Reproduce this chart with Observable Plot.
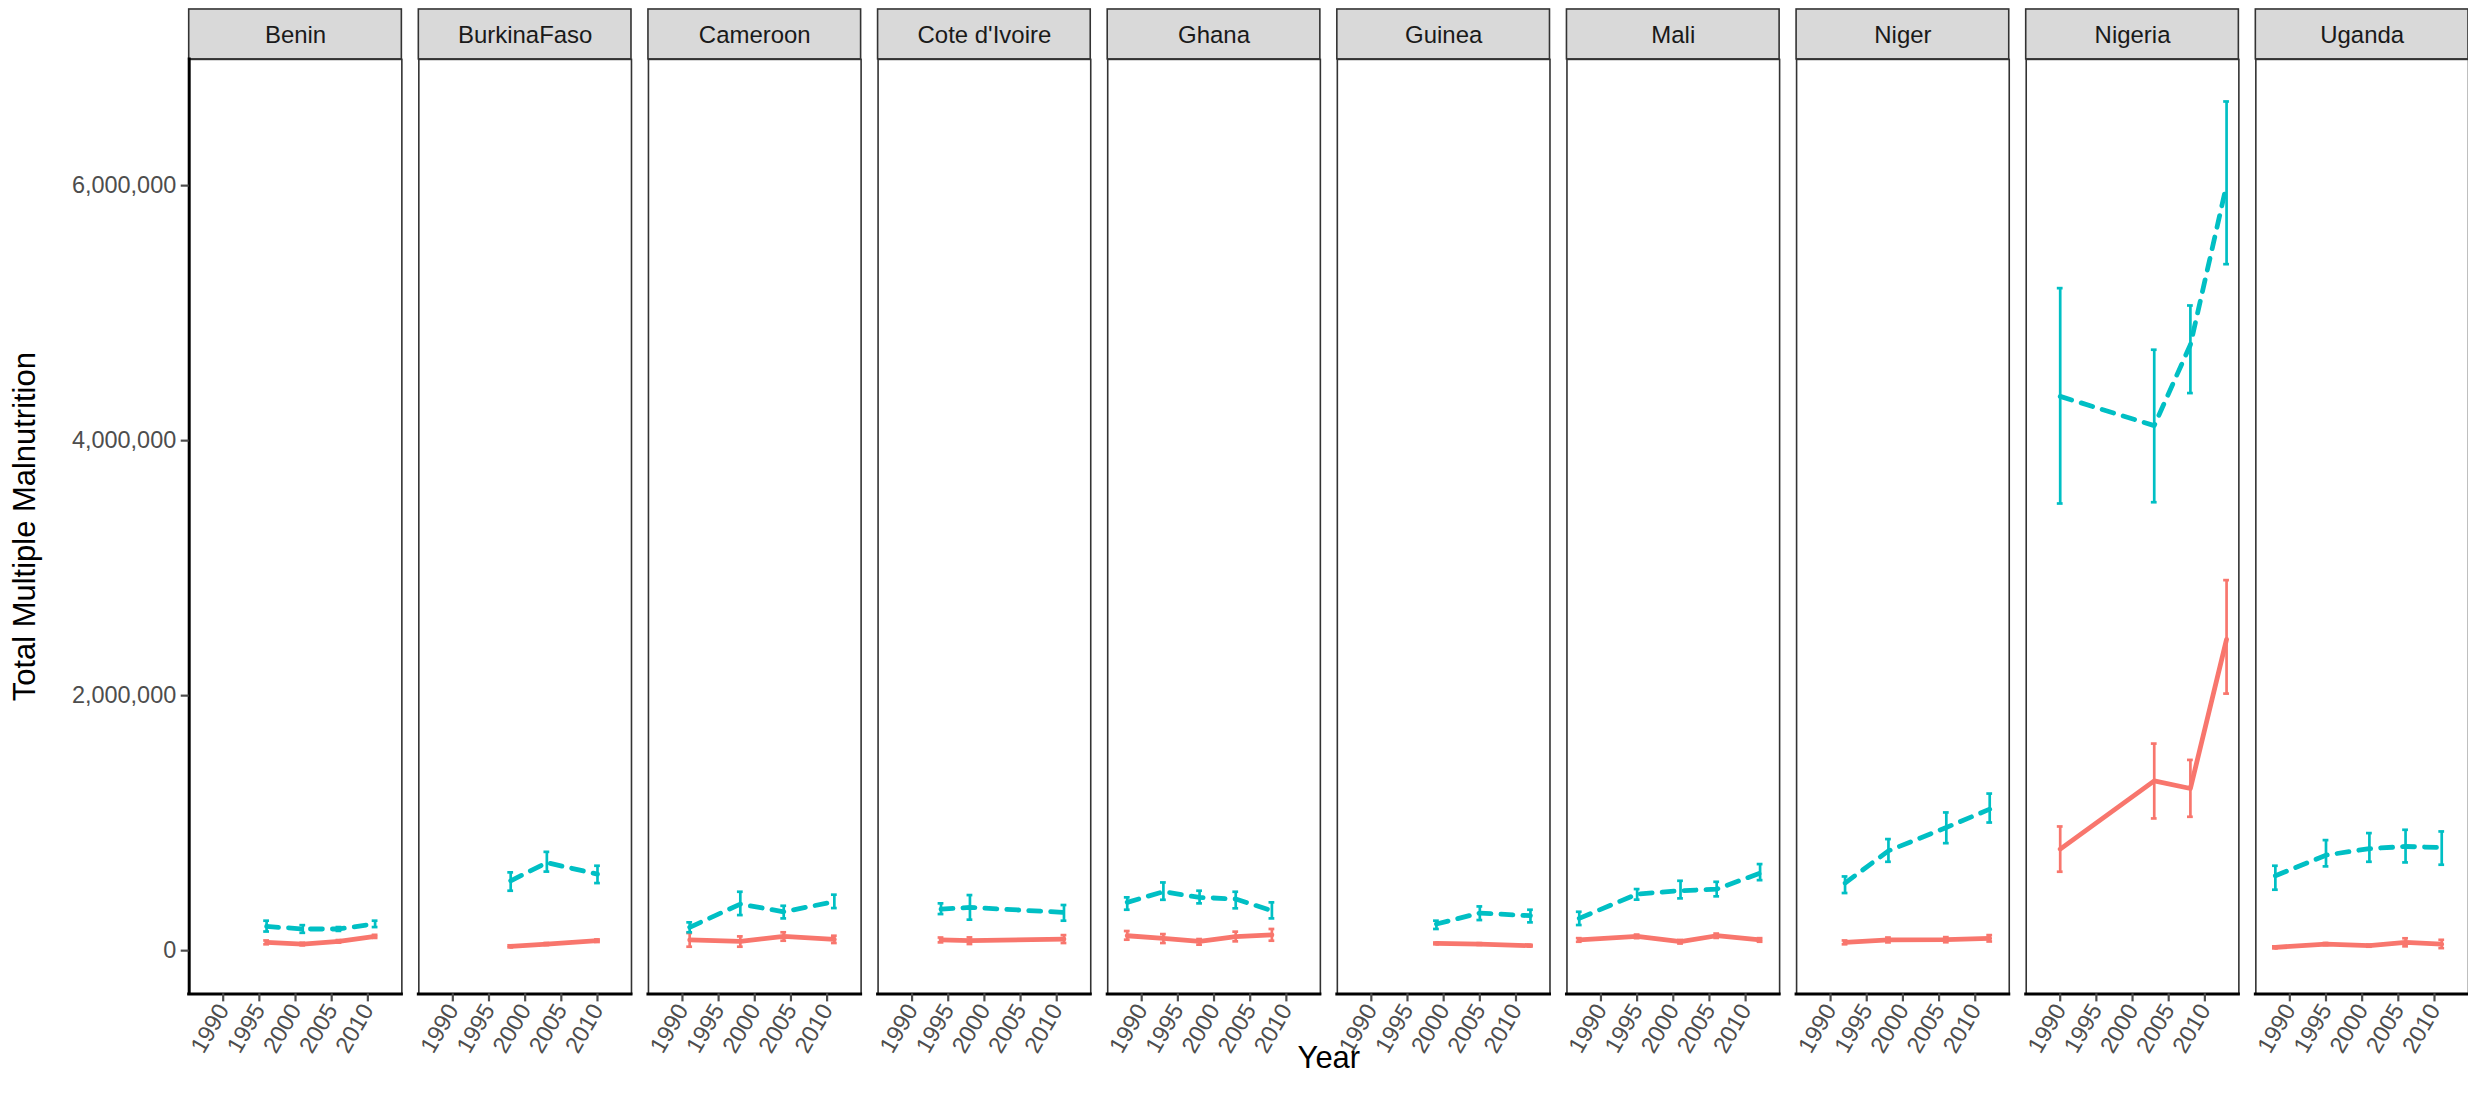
<!DOCTYPE html>
<html>
<head>
<meta charset="utf-8">
<script src="https://cdn.jsdelivr.net/npm/d3@7"></script>
<script src="https://cdn.jsdelivr.net/npm/@observablehq/plot@0.6"></script>
<style>
  html, body { margin: 0; padding: 0; background: #fff; overflow: hidden; }
  #chart svg { display: block; overflow: visible; }
</style>
</head>
<body>
<div id="chart"></div>
<script>
// Facet order (one panel per country)
const countries = ["Benin", "BurkinaFaso", "Cameroon", "Cote d'Ivoire", "Ghana",
                   "Guinea", "Mali", "Niger", "Nigeria", "Uganda"];

// One entry per survey round
const surveyCountry = [
  "Benin", "Benin", "Benin", "Benin",
  "BurkinaFaso", "BurkinaFaso", "BurkinaFaso",
  "Cameroon", "Cameroon", "Cameroon", "Cameroon",
  "Cote d'Ivoire", "Cote d'Ivoire", "Cote d'Ivoire",
  "Ghana", "Ghana", "Ghana", "Ghana", "Ghana",
  "Guinea", "Guinea", "Guinea",
  "Mali", "Mali", "Mali", "Mali", "Mali",
  "Niger", "Niger", "Niger", "Niger",
  "Nigeria", "Nigeria", "Nigeria", "Nigeria",
  "Uganda", "Uganda", "Uganda", "Uganda", "Uganda"
];
const surveyYear = [
  1996, 2001, 2006, 2011,
  1998, 2003, 2010,
  1991, 1998, 2004, 2011,
  1994, 1998, 2011,
  1988, 1993, 1998, 2003, 2008,
  1999, 2005, 2012,
  1987, 1995, 2001, 2006, 2012,
  1992, 1998, 2006, 2012,
  1990, 2003, 2008, 2013,
  1988, 1995, 2001, 2006, 2011
];

// Solid (red) series, thousands of people: estimate and interval bounds
const redMid = [
  65, 52, 73, 112,
  34, 52, 78,
  84, 73, 112, 89,
  84, 78, 91,
  117, 97, 73, 110, 123,
  57, 52, 39,
  84, 112, 70, 117, 84,
  65, 84, 86, 97,
  796, 1332, 1272, 2441,
  26, 52, 39, 65, 52
];
const redLow = [
  50, 42, 63, 100,
  26, 44, 68,
  31, 31, 78, 60,
  65, 52, 60,
  86, 60, 47, 73, 78,
  50, 45, 33,
  70, 98, 56, 100, 70,
  50, 65, 66, 72,
  619, 1037, 1050, 2016,
  18, 44, 31, 34, 20
];
const redHigh = [
  80, 62, 83, 124,
  42, 60, 88,
  138, 112, 144, 117,
  103, 104, 122,
  154, 130, 91, 149, 170,
  64, 59, 45,
  98, 126, 84, 134, 98,
  80, 103, 106, 122,
  974, 1624, 1496, 2906,
  34, 60, 47, 97, 85
];

// Dashed (teal) series, thousands of people
const tealMid = [
  190, 170, 170, 210,
  548, 690, 600,
  183, 365, 305, 384,
  326, 339, 300,
  379, 462, 418, 405, 313,
  209, 295, 274,
  253, 444, 470, 483, 608,
  530, 783, 966, 1110,
  4347, 4118, 4752, 6005,
  587, 749, 800, 817, 809
];
const tealLow = [
  150, 140, 155, 185,
  470, 620, 530,
  144, 279, 253, 334,
  287, 243, 235,
  321, 399, 371, 332, 253,
  170, 240, 222,
  201, 400, 410, 426, 553,
  452, 697, 843, 1005,
  3507, 3517, 4373, 5384,
  478, 661, 697, 692, 674
];
const tealHigh = [
  235, 200, 185, 235,
  614, 775, 666,
  222, 462, 352, 439,
  371, 436, 358,
  418, 535, 470, 462, 379,
  235, 347, 321,
  305, 483, 548, 540, 679,
  582, 875, 1084, 1232,
  5196, 4713, 5060, 6660,
  666, 867, 922, 948, 935
];

// Axis ticks
const yearTicks = [1990, 1995, 2000, 2005, 2010];
const countTicks = [0, 2000000, 4000000, 6000000];

const RED = "#F8766D";
const TEAL = "#00BFC4";

function seriesRows(mid, low, high) {
  return surveyCountry.map((country, i) => ({
    country,
    year: surveyYear[i],
    mid: mid[i] * 1000,
    low: low[i] * 1000,
    high: high[i] * 1000
  }));
}
const redRows = seriesRows(redMid, redLow, redHigh);
const tealRows = seriesRows(tealMid, tealLow, tealHigh);

const capWidth = 0.8;             // error-bar cap width, in years
const xDomain = [1985.3, 2014.7];
const yDomain = [-339000, 6990000];

const stripHeight = 50;
const marginTop = 59;
const marginBottom = 120;
const height = 1115;
const panelHeight = height - marginTop - marginBottom;

function errorBars(rows, color) {
  return [
    Plot.ruleX(rows, {fx: "country", x: "year", y1: "low", y2: "high",
      stroke: color, strokeWidth: 2.7}),
    Plot.ruleY(rows, {fx: "country", y: "high",
      x1: d => d.year - capWidth / 2, x2: d => d.year + capWidth / 2,
      stroke: color, strokeWidth: 2.7}),
    Plot.ruleY(rows, {fx: "country", y: "low",
      x1: d => d.year - capWidth / 2, x2: d => d.year + capWidth / 2,
      stroke: color, strokeWidth: 2.7})
  ];
}

const chart = Plot.plot({
  width: 2472,
  height,
  marginLeft: 188,
  marginRight: 0,
  marginTop,
  marginBottom,
  style: {fontFamily: "'Liberation Sans', Arial, sans-serif", background: "#fff", overflow: "visible"},
  fx: {domain: countries, paddingInner: 0.0759, paddingOuter: 0},
  x: {domain: xDomain},
  y: {domain: yDomain},
  marks: [
    // facet strips
    Plot.rect(countries, {fx: d => d, fill: "#D9D9D9", stroke: "#333333", strokeWidth: 1.6,
      insetTop: -stripHeight, insetBottom: panelHeight}),
    Plot.text(countries, {fx: d => d, text: d => d, frameAnchor: "top", dy: -24,
      fontSize: 24, fill: "#1A1A1A", lineAnchor: "middle"}),
    // panel borders
    Plot.frame({stroke: "#333333", strokeWidth: 1.6}),
    // axis lines
    Plot.ruleY([yDomain[0]], {stroke: "#000", strokeWidth: 3, strokeLinecap: "square"}),
    Plot.ruleX([countries[0]], {fx: d => d, x: () => xDomain[0], stroke: "#000", strokeWidth: 3, strokeLinecap: "square"}),
    // axes
    Plot.axisY({ticks: countTicks, tickFormat: d3.format(","), tickSize: 8, tickPadding: 5,
      fontSize: 23.5, color: "#4D4D4D", strokeWidth: 2.2, label: null}),
    Plot.axisX({ticks: yearTicks, tickFormat: d => String(d), tickRotate: -60, tickSize: 8,
      tickPadding: 4, fontSize: 23.5, color: "#4D4D4D", strokeWidth: 2.2, label: null}),
    Plot.axisFx({anchor: "bottom", ticks: [], tickSize: 0, label: "Year", labelAnchor: "center",
      labelOffset: 74, fontSize: 31, color: "#000"}),
    Plot.text(["Total Multiple Malnutrition"], {fx: () => countries[0], text: d => d,
      frameAnchor: "left", textAnchor: "middle", rotate: -90, dx: -164, fontSize: 31, fill: "#000"}),
    // series
    Plot.line(redRows, {fx: "country", x: "year", y: "mid", stroke: RED, strokeWidth: 4.8}),
    Plot.line(tealRows, {fx: "country", x: "year", y: "mid", stroke: TEAL, strokeWidth: 4.8,
      strokeDasharray: "12,10"}),
    ...errorBars(redRows, RED),
    ...errorBars(tealRows, TEAL)
  ]
});

document.getElementById("chart").appendChild(chart);
</script>
</body>
</html>
